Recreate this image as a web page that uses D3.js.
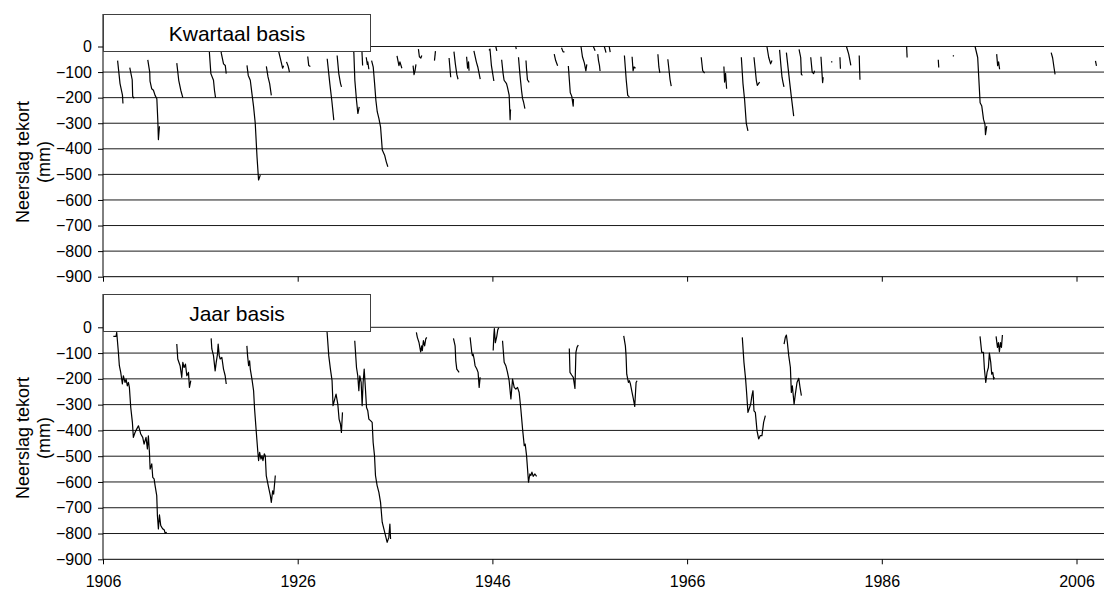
<!DOCTYPE html>
<html><head><meta charset="utf-8">
<script src="https://cdn.jsdelivr.net/npm/d3@7"></script>
<style>
body{margin:0;background:#fff}
svg{display:block}
text{font-family:"Liberation Sans",Arial,sans-serif;fill:#000}
</style>
</head><body>
<svg id="chart" width="1104" height="589"></svg>
<script>
// ---------- data ----------
const xTicks = [1906, 1926, 1946, 1966, 1986, 2006];
const yTicks = [0, -100, -200, -300, -400, -500, -600, -700, -800, -900];
const panelTitles = ["Kwartaal basis", "Jaar basis"];
const yTitleLines = ["Neerslag tekort", "(mm)"];

// Kwartaal basis: segments of [year, deficit mm]
const kwartaal = [
  [[1907.5,-55],[1907.75,-145],[1908.0,-190],[1908.05,-223]],
  [[1908.75,-83],[1909.0,-130],[1909.05,-195],[1909.2,-203]],
  [[1910.6,-52],[1910.8,-100],[1910.83,-135],[1911.0,-165],[1911.18,-171],[1911.35,-191],[1911.53,-204],[1911.63,-288],[1911.69,-364],[1911.8,-312]],
  [[1913.58,-65],[1913.78,-132],[1913.99,-171],[1914.2,-200]],
  [[1916.9,0],[1916.94,-29],[1917.08,-106],[1917.35,-132],[1917.45,-171],[1917.56,-200]],
  [[1918.1,0],[1918.15,-26],[1918.38,-68],[1918.56,-74],[1918.66,-106]],
  [[1920.79,-74],[1920.92,-113],[1921.13,-132],[1921.3,-184],[1921.47,-236],[1921.64,-301],[1921.82,-431],[1921.98,-522],[1922.16,-503]],
  [[1922.78,-78],[1922.95,-119],[1923.12,-145],[1923.29,-191]],
  [[1924.05,-20],[1924.3,-60],[1924.45,-85],[1924.55,-75]],
  [[1924.85,-60],[1925.0,-75],[1925.1,-90],[1925.15,-100]],
  [[1927.03,-39],[1927.13,-74],[1927.3,-78]],
  [[1929.03,-48],[1929.3,-145],[1929.5,-210],[1929.71,-288]],
  [[1930.05,-35],[1930.22,-106],[1930.4,-145],[1930.5,-158]],
  [[1931.7,0],[1931.77,-26],[1931.87,-132],[1932.04,-210],[1932.18,-262],[1932.32,-236]],
  [[1932.6,-20],[1932.67,-74]],
  [[1933.04,-42],[1933.15,-70],[1933.2,-60],[1933.31,-89]],
  [[1933.59,-55],[1933.76,-81],[1933.9,-145],[1934.03,-210],[1934.17,-255],[1934.34,-281],[1934.51,-314],[1934.69,-405],[1934.93,-425],[1935.1,-451],[1935.26,-470]],
  [[1936.2,-37],[1936.4,-75],[1936.5,-60],[1936.7,-85]],
  [[1937.85,-75],[1937.95,-110],[1938.05,-95],[1938.15,-70]],
  [[1938.4,-10],[1938.5,-40],[1938.65,-45],[1938.75,-35]],
  [[1940.05,-55],[1940.15,-18]],
  [[1941.55,-45],[1941.65,-90],[1941.72,-120]],
  [[1942.05,-20],[1942.2,-70],[1942.35,-110],[1942.47,-128]],
  [[1943.35,-40],[1943.45,-85],[1943.55,-60],[1943.6,-95]],
  [[1944.1,-17],[1944.35,-60],[1944.5,-80],[1944.75,-128]],
  [[1945.65,-15],[1945.75,-10],[1945.9,-75],[1946.15,-135]],
  [[1946.35,0],[1946.45,-17]],
  [[1946.95,-52],[1947.1,-106],[1947.2,-132],[1947.45,-145],[1947.55,-160],[1947.72,-190],[1947.82,-286],[1947.85,-250],[1947.9,-247]],
  [[1948.4,0],[1948.45,-10]],
  [[1948.68,-42],[1948.82,-106],[1948.99,-171],[1949.1,-204],[1949.2,-217],[1949.34,-243]],
  [[1949.45,-55],[1949.5,-85],[1949.6,-130],[1949.78,-140]],
  [[1952.35,-30],[1952.5,-55],[1952.7,-75]],
  [[1953.1,-5],[1953.25,-20],[1953.4,-22]],
  [[1953.8,-76],[1954.0,-181],[1954.15,-194],[1954.3,-233],[1954.33,-205]],
  [[1955.1,0],[1955.25,-40],[1955.45,-65],[1955.6,-95],[1955.7,-70]],
  [[1956.37,0],[1956.55,-17]],
  [[1956.82,-30],[1956.9,-55],[1957.0,-75],[1957.06,-96]],
  [[1957.5,0],[1957.67,-24]],
  [[1958.0,0],[1958.1,-22]],
  [[1959.56,-35],[1959.75,-132],[1959.9,-191],[1960.07,-197]],
  [[1960.35,-40],[1960.45,-95],[1960.55,-80],[1960.7,-85]],
  [[1963.0,-30],[1963.1,-80],[1963.2,-103]],
  [[1964.02,-50],[1964.15,-95],[1964.25,-130],[1964.37,-155]],
  [[1967.45,-42],[1967.6,-94],[1967.8,-104]],
  [[1969.78,-78],[1969.85,-139],[1969.95,-105],[1970.06,-165]],
  [[1971.57,-42],[1971.74,-145],[1971.91,-210],[1972.08,-301],[1972.25,-330]],
  [[1972.87,-42],[1973.11,-132],[1973.21,-152],[1973.45,-139]],
  [[1974.2,0],[1974.38,-42],[1974.58,-68],[1974.72,-55]],
  [[1975.5,-13],[1975.65,-80],[1975.75,-120],[1975.85,-140],[1975.95,-158]],
  [[1976.2,-24],[1976.54,-141],[1976.7,-194],[1976.95,-272]],
  [[1977.5,-11],[1977.67,-43],[1977.74,-109],[1977.85,-113]],
  [[1978.7,-42],[1978.85,-100],[1979.0,-106],[1979.1,-95]],
  [[1979.75,-40],[1979.85,-100],[1979.92,-141],[1979.98,-120]],
  [[1980.82,-58],[1980.9,-62]],
  [[1981.7,-42],[1981.75,-87]],
  [[1982.37,0],[1982.6,-30],[1982.82,-74]],
  [[1983.68,-35],[1983.72,-90],[1983.76,-130]],
  [[1988.55,0],[1988.6,-43]],
  [[1991.8,-52],[1991.85,-82]],
  [[1993.3,-35],[1993.4,-38]],
  [[1995.58,0],[1995.85,-43],[1996.1,-220],[1996.27,-233],[1996.45,-285],[1996.6,-305],[1996.65,-345],[1996.78,-311]],
  [[1997.8,-30],[1997.9,-75],[1998.0,-60],[1998.1,-89]],
  [[2003.4,-24],[2003.55,-45],[2003.7,-85],[2003.8,-109]],
  [[2007.95,-56],[2008.05,-76]]
];

// Jaar basis: segments of [year, deficit mm]
const jaar = [
  [[1907.06,-35],[1907.34,-35],[1907.41,-20],[1907.58,-97],[1907.68,-149],[1907.82,-175],[1907.99,-220],[1908.09,-188],[1908.26,-214],[1908.37,-201],[1908.5,-227],[1908.61,-214],[1908.71,-233],[1908.85,-311],[1909.02,-369],[1909.12,-427],[1909.29,-408],[1909.46,-395],[1909.64,-382],[1909.74,-395],[1909.88,-414],[1910.08,-427],[1910.22,-453],[1910.42,-427],[1910.56,-472],[1910.66,-421],[1910.77,-485],[1910.84,-550],[1911.01,-530],[1911.11,-582],[1911.25,-588],[1911.35,-614],[1911.52,-653],[1911.59,-731],[1911.69,-782],[1911.8,-728],[1911.93,-769],[1912.04,-776],[1912.14,-782],[1912.28,-785],[1912.38,-798],[1912.55,-795]],
  [[1913.58,-65],[1913.68,-123],[1913.92,-149],[1914.09,-194],[1914.2,-136],[1914.33,-156],[1914.47,-143],[1914.61,-188],[1914.78,-175],[1914.88,-233],[1915.02,-207]],
  [[1917.11,-43],[1917.18,-84],[1917.35,-110],[1917.52,-169],[1917.63,-136],[1917.76,-104],[1917.83,-65],[1917.94,-110],[1918.04,-123],[1918.21,-117],[1918.38,-162],[1918.55,-188],[1918.66,-220]],
  [[1920.78,-72],[1920.85,-110],[1920.96,-149],[1921.06,-130],[1921.13,-162],[1921.3,-201],[1921.47,-246],[1921.57,-317],[1921.75,-408],[1921.88,-472],[1921.98,-517],[1922.09,-485],[1922.23,-511],[1922.33,-498],[1922.43,-517],[1922.57,-491],[1922.67,-498],[1922.77,-575],[1923.01,-621],[1923.19,-653],[1923.29,-679],[1923.43,-634],[1923.53,-647],[1923.7,-575]],
  [[1928.95,0],[1929.02,-20],[1929.19,-110],[1929.36,-162],[1929.53,-207],[1929.63,-304],[1929.81,-278],[1929.94,-259],[1930.12,-298],[1930.25,-356],[1930.39,-375],[1930.49,-408],[1930.6,-330]],
  [[1931.86,-52],[1932.04,-156],[1932.17,-188],[1932.28,-246],[1932.38,-188],[1932.52,-214],[1932.62,-304],[1932.72,-214],[1932.83,-162],[1932.96,-240],[1933.07,-311],[1933.2,-324],[1933.31,-356],[1933.48,-362],[1933.65,-369],[1933.75,-447],[1933.89,-498],[1933.99,-575],[1934.16,-614],[1934.34,-640],[1934.51,-679],[1934.68,-756],[1934.85,-782],[1935.02,-808],[1935.19,-834],[1935.36,-815],[1935.47,-763],[1935.54,-821]],
  [[1938.19,-20],[1938.29,-39],[1938.46,-59],[1938.63,-95],[1938.74,-72],[1938.8,-91],[1938.91,-52],[1939.04,-72],[1939.15,-46],[1939.25,-39]],
  [[1942.0,-43],[1942.17,-72],[1942.24,-130],[1942.34,-162],[1942.58,-175]],
  [[1943.71,-39],[1943.88,-97],[1943.95,-110],[1944.02,-104],[1944.12,-123],[1944.22,-149],[1944.4,-162],[1944.53,-175],[1944.64,-233],[1944.74,-194]],
  [[1946.08,-90],[1946.15,-30],[1946.2,-5],[1946.3,-60],[1946.45,-35],[1946.55,-10],[1946.65,-2]],
  [[1947.04,-52],[1947.21,-136],[1947.38,-149],[1947.55,-175],[1947.72,-207],[1947.9,-278],[1948.07,-201],[1948.24,-233],[1948.41,-240],[1948.58,-233],[1948.75,-253],[1948.92,-317],[1949.1,-395],[1949.27,-459],[1949.37,-453],[1949.51,-498],[1949.71,-601],[1949.85,-569],[1949.95,-575],[1950.06,-562],[1950.19,-578],[1950.37,-569],[1950.54,-578]],
  [[1953.9,-82],[1953.97,-175],[1954.14,-185],[1954.31,-194],[1954.48,-237],[1954.58,-97],[1954.69,-78],[1954.82,-69]],
  [[1959.49,-33],[1959.66,-72],[1959.73,-110],[1959.8,-182],[1959.97,-214],[1960.07,-207],[1960.18,-220],[1960.35,-253],[1960.48,-278],[1960.62,-307],[1960.76,-214],[1960.86,-207]],
  [[1971.67,-39],[1971.84,-136],[1972.01,-201],[1972.11,-252],[1972.25,-330],[1972.42,-311],[1972.53,-298],[1972.66,-265],[1972.77,-246],[1972.87,-324],[1973.01,-330],[1973.18,-401],[1973.35,-433],[1973.52,-420],[1973.69,-420],[1973.86,-369],[1974.04,-343]],
  [[1975.96,-65],[1976.09,-39],[1976.2,-30],[1976.3,-59],[1976.44,-110],[1976.61,-156],[1976.71,-253],[1976.81,-227],[1976.99,-298],[1977.12,-259],[1977.29,-214],[1977.47,-198],[1977.6,-233],[1977.74,-265]],
  [[1996.09,-35],[1996.26,-97],[1996.44,-97],[1996.54,-162],[1996.68,-214],[1996.81,-175],[1996.95,-156],[1997.05,-100],[1997.19,-136],[1997.29,-182],[1997.4,-175],[1997.5,-201],[1997.57,-194]],
  [[1997.74,-35],[1997.88,-78],[1997.98,-59],[1998.08,-95],[1998.19,-59],[1998.29,-78],[1998.39,-30]]
];

// ---------- layout ----------
const W = 1104, H = 589;
const plotLeft = 103, plotRight = 1104;
const panels = [
  {data: kwartaal, title: panelTitles[0], top: 14, zero: 46.5, bottom: 276.7, labels: false, titleY: 162},
  {data: jaar, title: panelTitles[1], top: 294, zero: 327.3, bottom: 559.3, labels: true, titleY: 438}
];

const svg = d3.select("#chart");
const x = d3.scaleLinear().domain([1906, 2006]).range([103, 1076.5]);

panels.forEach(p => {
  const y = d3.scaleLinear().domain([-900, 0]).range([p.bottom, p.zero]);
  const g = svg.append("g");

  // gridlines
  g.append("g").selectAll("line").data(yTicks.filter(d => d > -900)).join("line")
    .attr("x1", plotLeft).attr("x2", plotRight)
    .attr("y1", d => y(d)).attr("y2", d => y(d))
    .attr("stroke", "#1a1a1a").attr("stroke-width", 1);

  // data lines
  const line = d3.line().x(d => x(d[0])).y(d => y(d[1]));
  g.append("g").selectAll("path").data(p.data).join("path")
    .attr("d", line).attr("fill", "none")
    .attr("stroke", "#000").attr("stroke-width", 1.2).attr("stroke-linejoin", "round");

  // y axis
  const yAxis = d3.axisLeft(y).tickValues(yTicks).tickSize(5).tickPadding(6).tickFormat(d3.format("d"));
  const ya = g.append("g").attr("transform", `translate(${plotLeft},0)`).call(yAxis);
  ya.select(".domain").remove();
  ya.selectAll(".tick line").attr("stroke", "#000");
  ya.selectAll(".tick text").attr("font-size", 16).style("font-family", '"Liberation Sans",Arial,sans-serif');
  g.append("line").attr("x1", plotLeft).attr("x2", plotLeft).attr("y1", p.top).attr("y2", p.bottom)
    .attr("stroke", "#000").attr("stroke-width", 1);

  // x axis
  const xAxis = d3.axisBottom(x).tickValues(xTicks).tickSize(5).tickPadding(11)
    .tickFormat(p.labels ? d3.format("d") : () => "");
  const xa = g.append("g").attr("transform", `translate(0,${p.bottom})`).call(xAxis);
  xa.select(".domain").remove();
  xa.selectAll(".tick line").attr("stroke", "#000");
  xa.selectAll(".tick text").attr("font-size", 16).style("font-family", '"Liberation Sans",Arial,sans-serif');
  g.append("line").attr("x1", plotLeft).attr("x2", plotRight).attr("y1", p.bottom).attr("y2", p.bottom)
    .attr("stroke", "#000").attr("stroke-width", 1);

  // panel title box
  const boxTop = p.top, boxH = 38, boxRight = 371;
  g.append("rect").attr("x", plotLeft + 0.5).attr("y", boxTop + 0.5)
    .attr("width", boxRight - plotLeft - 1).attr("height", boxH - 1)
    .attr("fill", "#fff").attr("stroke", "#404040").attr("stroke-width", 1);
  g.append("text").attr("x", (plotLeft + boxRight) / 2).attr("y", boxTop + boxH / 2 + 8)
    .attr("text-anchor", "middle").attr("font-size", 21).text(p.title);

  // y title
  const yt = g.append("text").attr("transform", `translate(0,${p.titleY}) rotate(-90)`)
    .attr("text-anchor", "middle").attr("font-size", 18);
  yt.append("tspan").attr("x", 0).attr("y", 29).text(yTitleLines[0]);
  yt.append("tspan").attr("x", 0).attr("y", 50).text(yTitleLines[1]);
});
</script>
</body></html>
